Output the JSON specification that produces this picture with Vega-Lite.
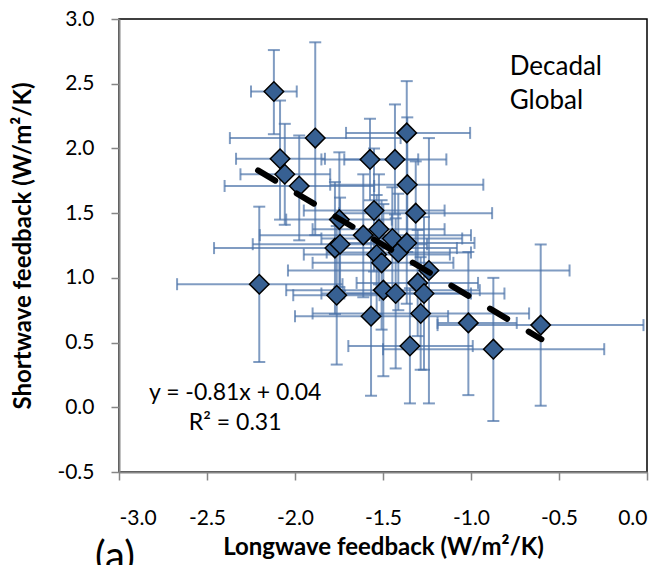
{
  "$schema": "https://vega.github.io/schema/vega-lite/v6.json",
  "width": 528,
  "height": 453,
  "autosize": {"type": "none"},
  "padding": {"left": 119, "top": 19, "right": 19, "bottom": 93},
  "background": "white",
  "config": {
    "view": {"stroke": "#000000", "strokeWidth": 1.5},
    "font": "Lato",
    "axis": {
      "domainColor": "#868686", "domainWidth": 2, "tickColor": "#868686", "tickWidth": 1.5, "tickSize": 8,
      "grid": false, "labelFont": "Lato", "labelFontSize": 21, "labelColor": "#000000",
      "titleFont": "Lato", "titleFontSize": 24, "titleFontWeight": "bold", "titleColor": "#000000",
      "labelExpr": "replace(format(datum.value, '.1f'), '\u2212', '-')"
    }
  },
  "datasets": {
    "pts": [
      {"x": -2.12, "y": 2.44, "xlo": -2.25, "xhi": -1.99, "ylo": 2.11, "yhi": 2.76},
      {"x": -1.885, "y": 2.08, "xlo": -2.37, "xhi": -1.40, "ylo": 1.33, "yhi": 2.82},
      {"x": -2.085, "y": 1.92, "xlo": -2.335, "xhi": -1.83, "ylo": 1.45, "yhi": 2.37},
      {"x": -2.058, "y": 1.80, "xlo": -2.31, "xhi": -1.80, "ylo": 1.41, "yhi": 2.19},
      {"x": -1.976, "y": 1.71, "xlo": -2.40, "xhi": -1.55, "ylo": 1.29, "yhi": 2.10},
      {"x": -1.574, "y": 1.915, "xlo": -1.85, "xhi": -1.30, "ylo": 1.60, "yhi": 2.23},
      {"x": -1.432, "y": 1.915, "xlo": -1.72, "xhi": -1.14, "ylo": 1.49, "yhi": 2.34},
      {"x": -1.551, "y": 1.52, "xlo": -1.95, "xhi": -1.15, "ylo": 1.05, "yhi": 2.00},
      {"x": -1.748, "y": 1.45, "xlo": -2.05, "xhi": -1.45, "ylo": 0.93, "yhi": 1.97},
      {"x": -1.612, "y": 1.33, "xlo": -2.20, "xhi": -1.00, "ylo": 0.85, "yhi": 1.80},
      {"x": -1.773, "y": 1.23, "xlo": -2.46, "xhi": -1.08, "ylo": 0.72, "yhi": 1.74},
      {"x": -1.744, "y": 1.26, "xlo": -2.24, "xhi": -1.25, "ylo": 0.90, "yhi": 1.62},
      {"x": -1.523, "y": 1.376, "xlo": -1.90, "xhi": -1.15, "ylo": 0.95, "yhi": 1.80},
      {"x": -1.447, "y": 1.304, "xlo": -1.85, "xhi": -1.05, "ylo": 0.90, "yhi": 1.70},
      {"x": -1.536, "y": 1.18, "xlo": -1.95, "xhi": -1.12, "ylo": 0.72, "yhi": 1.64},
      {"x": -1.508, "y": 1.116, "xlo": -1.90, "xhi": -1.10, "ylo": 0.60, "yhi": 1.60},
      {"x": -1.365, "y": 2.12, "xlo": -1.71, "xhi": -1.005, "ylo": 1.72, "yhi": 2.52},
      {"x": -1.362, "y": 1.72, "xlo": -1.80, "xhi": -0.93, "ylo": 1.20, "yhi": 2.24},
      {"x": -1.314, "y": 1.50, "xlo": -1.75, "xhi": -0.88, "ylo": 1.10, "yhi": 1.90},
      {"x": -1.413, "y": 1.196, "xlo": -1.82, "xhi": -1.00, "ylo": 0.75, "yhi": 1.65},
      {"x": -1.365, "y": 1.27, "xlo": -1.75, "xhi": -0.98, "ylo": 0.80, "yhi": 1.74},
      {"x": -1.239, "y": 1.057, "xlo": -2.04, "xhi": -0.44, "ylo": 0.03, "yhi": 2.08},
      {"x": -1.303, "y": 0.961, "xlo": -1.65, "xhi": -0.96, "ylo": 0.55, "yhi": 1.37},
      {"x": -2.203, "y": 0.951, "xlo": -2.67, "xhi": -1.73, "ylo": 0.35, "yhi": 1.55},
      {"x": -1.498, "y": 0.905, "xlo": -2.05, "xhi": -0.95, "ylo": 0.24, "yhi": 1.57},
      {"x": -1.428, "y": 0.879, "xlo": -1.85, "xhi": -1.00, "ylo": 0.30, "yhi": 1.46},
      {"x": -1.267, "y": 0.879, "xlo": -1.72, "xhi": -0.81, "ylo": 0.29, "yhi": 1.47},
      {"x": -1.763, "y": 0.866, "xlo": -2.01, "xhi": -1.52, "ylo": 0.33, "yhi": 1.40},
      {"x": -1.286, "y": 0.725, "xlo": -1.90, "xhi": -0.67, "ylo": 0.29, "yhi": 1.16},
      {"x": -1.568, "y": 0.704, "xlo": -2.00, "xhi": -1.13, "ylo": 0.09, "yhi": 1.32},
      {"x": -1.015, "y": 0.652, "xlo": -1.19, "xhi": -0.74, "ylo": 0.094, "yhi": 1.20},
      {"x": -1.347, "y": 0.473, "xlo": -1.697, "xhi": -0.99, "ylo": 0.03, "yhi": 0.92},
      {"x": -0.873, "y": 0.449, "xlo": -1.50, "xhi": -0.243, "ylo": -0.106, "yhi": 1.00},
      {"x": -0.604, "y": 0.635, "xlo": -1.19, "xhi": -0.02, "ylo": 0.012, "yhi": 1.258}
    ],
    "fit": [
      {"x": -2.21, "y": 1.830},
      {"x": -0.60, "y": 0.526}
    ],
    "notes": [
      {"x": -0.78, "y": 2.63, "label": "Decadal"},
      {"x": -0.78, "y": 2.37, "label": "Global"}
    ],
    "eq": [
      {"x": -2.34, "y": 0.11, "label": "y = -0.81x + 0.04"},
      {"x": -2.34, "y": -0.12, "label": "R² = 0.31"}
    ],
    "panel": [
      {"x": -3.136, "y": -1.255, "label": "(a)"}
    ]
  },
  "layer": [
    {
      "data": {"name": "pts"},
      "mark": {"type": "rule", "color": "#4a72a8", "opacity": 0.7, "strokeWidth": 2},
      "encoding": {
        "x": {"field": "xlo", "type": "quantitative", "scale": {"domain": [-3, 0], "nice": false, "zero": false},
              "axis": {"values": [-3, -2.5, -2, -1.5, -1, -0.5, 0], "labelPadding": 27, "title": "Longwave feedback (W/m²/K)", "titlePadding": 7}},
        "x2": {"field": "xhi"},
        "y": {"field": "y", "type": "quantitative", "scale": {"domain": [-0.5, 3], "nice": false, "zero": false},
              "axis": {"values": [-0.5, 0, 0.5, 1, 1.5, 2, 2.5, 3], "labelPadding": 17, "title": "Shortwave feedback (W/m²/K)", "titlePadding": 21}}
      }
    },
    {
      "data": {"name": "pts"},
      "mark": {"type": "rule", "color": "#4a72a8", "opacity": 0.7, "strokeWidth": 2},
      "encoding": {
        "x": {"field": "x", "type": "quantitative"},
        "y": {"field": "ylo", "type": "quantitative"},
        "y2": {"field": "yhi"}
      }
    },
    {
      "data": {"name": "pts"},
      "mark": {"type": "tick", "orient": "vertical", "color": "#4a72a8", "opacity": 0.7, "thickness": 2, "size": 12},
      "encoding": {"x": {"field": "xlo", "type": "quantitative"}, "y": {"field": "y", "type": "quantitative"}}
    },
    {
      "data": {"name": "pts"},
      "mark": {"type": "tick", "orient": "vertical", "color": "#4a72a8", "opacity": 0.7, "thickness": 2, "size": 12},
      "encoding": {"x": {"field": "xhi", "type": "quantitative"}, "y": {"field": "y", "type": "quantitative"}}
    },
    {
      "data": {"name": "pts"},
      "mark": {"type": "tick", "orient": "horizontal", "color": "#4a72a8", "opacity": 0.7, "thickness": 2, "size": 12},
      "encoding": {"x": {"field": "x", "type": "quantitative"}, "y": {"field": "ylo", "type": "quantitative"}}
    },
    {
      "data": {"name": "pts"},
      "mark": {"type": "tick", "orient": "horizontal", "color": "#4a72a8", "opacity": 0.7, "thickness": 2, "size": 12},
      "encoding": {"x": {"field": "x", "type": "quantitative"}, "y": {"field": "yhi", "type": "quantitative"}}
    },
    {
      "data": {"name": "pts"},
      "mark": {"type": "point", "shape": "diamond", "filled": true, "fill": "#376092", "stroke": "#000000", "strokeWidth": 1.5, "size": 380, "opacity": 1},
      "encoding": {"x": {"field": "x", "type": "quantitative"}, "y": {"field": "y", "type": "quantitative"}}
    },
    {
      "data": {"name": "fit"},
      "mark": {"type": "line", "color": "#000000", "strokeWidth": 6, "strokeDash": [20, 25], "strokeCap": "round"},
      "encoding": {"x": {"field": "x", "type": "quantitative"}, "y": {"field": "y", "type": "quantitative"}}
    },
    {
      "data": {"name": "notes"},
      "mark": {"type": "text", "fontSize": 26, "font": "Lato", "align": "left", "baseline": "middle", "color": "#000000"},
      "encoding": {"x": {"field": "x", "type": "quantitative"}, "y": {"field": "y", "type": "quantitative"}, "text": {"field": "label"}}
    },
    {
      "data": {"name": "eq"},
      "mark": {"type": "text", "fontSize": 23, "font": "Lato", "align": "center", "baseline": "middle", "color": "#000000"},
      "encoding": {"x": {"field": "x", "type": "quantitative"}, "y": {"field": "y", "type": "quantitative"}, "text": {"field": "label"}}
    },
    {
      "data": {"name": "panel"},
      "mark": {"type": "text", "fontSize": 40, "font": "Lato", "align": "left", "baseline": "alphabetic", "color": "#000000"},
      "encoding": {"x": {"field": "x", "type": "quantitative"}, "y": {"field": "y", "type": "quantitative"}, "text": {"field": "label"}}
    }
  ]
}
